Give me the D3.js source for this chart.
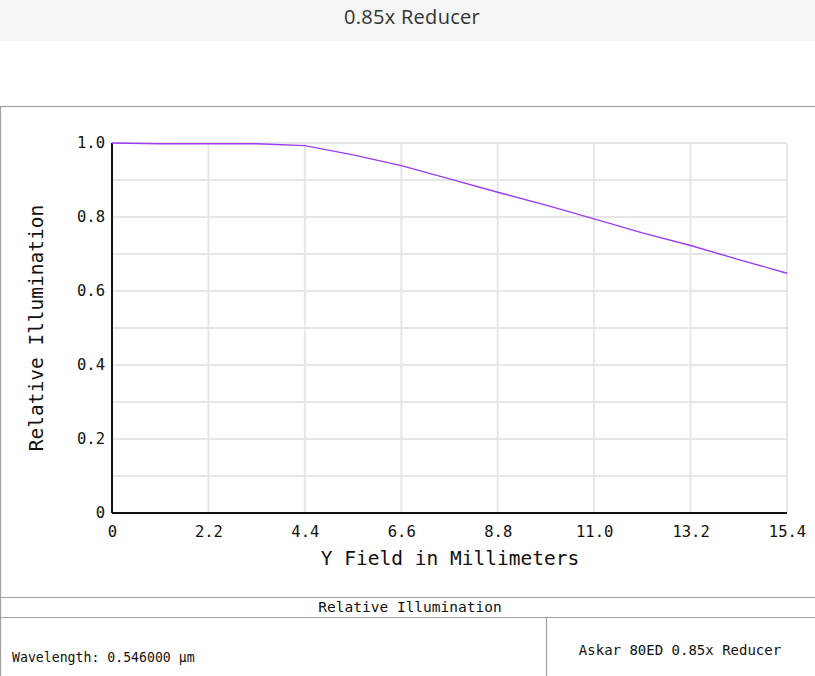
<!DOCTYPE html>
<html><head><meta charset="utf-8">
<script src="https://cdn.jsdelivr.net/npm/d3@7"></script>
<style>html,body{margin:0;padding:0;background:#fff;}svg{display:block;}</style>
</head><body>
<script>
const pageTitle = "0.85x Reducer";
const fieldMM = [0, 1.1, 2.2, 3.3, 4.4, 5.5, 6.6, 7.7, 8.8, 9.9, 11.0, 12.1, 13.2, 14.3, 15.4];
const relIllum = [1.0, 0.998, 0.998, 0.998, 0.993, 0.968, 0.939, 0.903, 0.867, 0.832, 0.795, 0.757, 0.723, 0.685, 0.648];
const xTicks = [0, 2.2, 4.4, 6.6, 8.8, 11.0, 13.2, 15.4];
const xTickLabels = ["0", "2.2", "4.4", "6.6", "8.8", "11.0", "13.2", "15.4"];
const yTicks = [0, 0.2, 0.4, 0.6, 0.8, 1.0];
const yTickLabels = ["0", "0.2", "0.4", "0.6", "0.8", "1.0"];
const yGrid = [0.1,0.2,0.3,0.4,0.5,0.6,0.7,0.8,0.9,1.0];
const xTitle = "Y Field in Millimeters";
const yTitle = "Relative Illumination";
const footTitle = "Relative Illumination";
const footLeft = "Wavelength: 0.546000 µm";
const footRight = "Askar 80ED 0.85x Reducer";

const W = 815, H = 676;
const svg = d3.select("body").append("svg").attr("width", W).attr("height", H);
const mono = "'DejaVu Sans Mono', monospace";

// title bar
svg.append("rect").attr("x",0).attr("y",0).attr("width",W).attr("height",41).attr("fill","#f5f5f5");
svg.append("text").attr("x",412).attr("y",24).attr("text-anchor","middle")
  .attr("font-family","'Open Sans', sans-serif").attr("font-size",20).attr("letter-spacing",0.3).attr("fill","#333").text(pageTitle);

// panel frame
const frame = svg.append("g").attr("stroke","#a0a0a0").attr("stroke-width",1.2).attr("fill","none");
frame.append("rect").attr("x",0.5).attr("y",106.5).attr("width",W+5).attr("height",H);
frame.append("line").attr("x1",0).attr("x2",W).attr("y1",597.5).attr("y2",597.5);
frame.append("line").attr("x1",0).attr("x2",W).attr("y1",617.5).attr("y2",617.5);
frame.append("line").attr("x1",546.5).attr("x2",546.5).attr("y1",617.5).attr("y2",H);

const x = d3.scaleLinear().domain([0, 15.4]).range([112, 787]);
const y = d3.scaleLinear().domain([0, 1.0]).range([513, 143]);

// grid
const grid = svg.append("g").attr("stroke","#e6e6e6").attr("stroke-width",2);
grid.selectAll(".gy").data(yGrid).join("line")
  .attr("x1",x(0)).attr("x2",x(15.4)).attr("y1",d=>y(d)).attr("y2",d=>y(d));
grid.selectAll(".gx").data(xTicks.slice(1)).join("line")
  .attr("x1",d=>x(d)).attr("x2",d=>x(d)).attr("y1",y(1.0)).attr("y2",y(0));

// axes lines
svg.append("line").attr("x1",x(0)).attr("x2",x(15.4)).attr("y1",y(0)).attr("y2",y(0)).attr("stroke","#111").attr("stroke-width",2);
svg.append("line").attr("x1",x(0)).attr("x2",x(0)).attr("y1",y(1.0)).attr("y2",y(0)).attr("stroke","#111").attr("stroke-width",2);

// axes via d3
const xAxis = d3.axisBottom(x).tickValues(xTicks).tickFormat((d,i)=>xTickLabels[i]).tickSize(0).tickPadding(13);
const gx = svg.append("g").attr("transform",`translate(0,${y(0)})`).call(xAxis);
gx.select(".domain").remove();
gx.selectAll("text").attr("font-family",mono).attr("font-size",15.5).attr("fill","#111");

const yAxis = d3.axisLeft(y).tickValues(yTicks).tickFormat((d,i)=>yTickLabels[i]).tickSize(0).tickPadding(7);
const gy = svg.append("g").attr("transform",`translate(${x(0)},0)`).call(yAxis);
gy.select(".domain").remove();
gy.selectAll("text").attr("font-family",mono).attr("font-size",15.5).attr("fill","#111");

// curve
svg.append("path").datum(fieldMM.map((f,i)=>[f, relIllum[i]]))
  .attr("d", d3.line().x(d=>x(d[0])).y(d=>y(d[1])))
  .attr("fill","none").attr("stroke","#9b3cf0").attr("stroke-width",1.4);

// axis titles
svg.append("text").attr("x",450).attr("y",565).attr("text-anchor","middle")
  .attr("font-family",mono).attr("font-size",19.5).attr("fill","#111").text(xTitle);
svg.append("text").attr("transform","translate(43,328) rotate(-90)").attr("text-anchor","middle")
  .attr("font-family",mono).attr("font-size",19.5).attr("fill","#111").text(yTitle);

// footer
svg.append("text").attr("x",410).attr("y",612).attr("text-anchor","middle")
  .attr("font-family",mono).attr("font-size",14.5).attr("fill","#111").text(footTitle);
svg.append("text").attr("x",12).attr("y",662)
  .attr("font-family",mono).attr("font-size",13.2).attr("fill","#111").text(footLeft);
svg.append("text").attr("x",680).attr("y",655).attr("text-anchor","middle")
  .attr("font-family",mono).attr("font-size",14).attr("fill","#111").text(footRight);
</script>
</body></html>
